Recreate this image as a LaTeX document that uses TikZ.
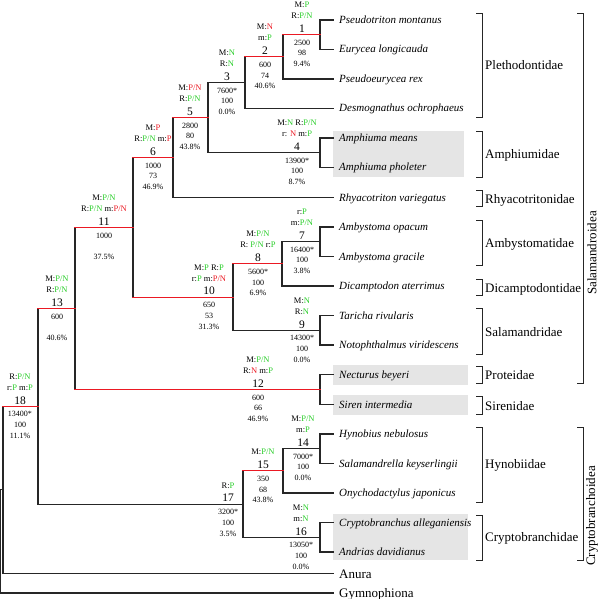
\documentclass[tikz,border=0pt]{standalone}
\usepackage{fontspec}
\setmainfont{Liberation Serif}
\definecolor{gr}{RGB}{40,205,40}
\definecolor{rd}{RGB}{235,25,35}
\definecolor{boxgray}{RGB}{229,229,229}
\newcommand{\gtx}[1]{\textcolor{gr}{#1}}
\newcommand{\rtx}[1]{\textcolor{rd}{#1}}
\newcommand{\tlab}[9]{%
  \node[clab] (#1-a) at (#2,#3-27) {#4};
  \node[clab] (#1-b) at (#2,#3-16) {#5};
  \node[nlab] (#1-n) at (#2,#3-2.2) {#6};
  \node[slab] (#1-s) at (#2,#3+10.7) {#7};
  \node[slab] (#1-t) at (#2,#3+21.2) {#8};
  \node[slab] (#1-u) at (#2,#3+32.0) {#9};
}
\tikzset{
  clab/.style={anchor=base, inner sep=0pt, font=\fontsize{8.5}{10}\selectfont},
  nlab/.style={anchor=base, inner sep=0pt, font=\fontsize{11.5}{12}\selectfont},
  slab/.style={anchor=base, inner sep=0pt, font=\fontsize{8}{9}\selectfont},
  br/.style={line width=1.1pt, black!85, line cap=rect},
  rb/.style={line width=1.1pt, rd, line cap=rect},
  sp/.style={anchor=base west, inner sep=0pt, font=\fontsize{11}{12}\selectfont\itshape},
  fam/.style={anchor=base west, inner sep=0pt, font=\fontsize{13}{14}\selectfont},
  brk/.style={line width=0.9pt, black!85},
}
\begin{document}
\begin{tikzpicture}[x=1pt,y=-1pt]
\useasboundingbox (0,0) rectangle (600,599);
% shaded species boxes
\fill[boxgray] (333,131.5) rectangle (464,177.5);
\fill[boxgray] (333,364.5) rectangle (468,384.5);
\fill[boxgray] (333,395) rectangle (468,415);
\fill[boxgray] (333,514) rectangle (468,560);
% leaves
\coordinate (l0) at (333,20);
\coordinate (l1) at (333,49.5);
\coordinate (l2) at (333,79);
\coordinate (l3) at (333,108.5);
\coordinate (l4) at (333,138);
\coordinate (l5) at (333,167.5);
\coordinate (l6) at (333,197.5);
\coordinate (l7) at (333,227);
\coordinate (l8) at (333,256.5);
\coordinate (l9) at (333,286);
\coordinate (l10) at (333,315.5);
\coordinate (l11) at (333,345);
\coordinate (l12) at (333,374.5);
\coordinate (l13) at (333,404.5);
\coordinate (l14) at (333,434);
\coordinate (l15) at (333,463.5);
\coordinate (l16) at (333,493);
\coordinate (l17) at (333,522.5);
\coordinate (l18) at (333,552);
\coordinate (lan) at (333,573.5);
\coordinate (lgy) at (333,593);
% internal nodes
\coordinate (n1) at (320,34.75);
\coordinate (n2) at (283,56.9);
\coordinate (n3) at (245,82.7);
\coordinate (n4) at (320,152.75);
\coordinate (n5) at (208,117.7);
\coordinate (n6) at (173,157.6);
\coordinate (n7) at (320,241.75);
\coordinate (n8) at (282,263.9);
\coordinate (n9) at (320,330.25);
\coordinate (n10) at (233,297.1);
\coordinate (n11) at (133,227.35);
\coordinate (n12) at (320,389.5);
\coordinate (n13) at (75,308.4);
\coordinate (n14) at (320,448.75);
\coordinate (n15) at (283,470.9);
\coordinate (n16) at (320,537.25);
\coordinate (n17) at (243,504.1);
\coordinate (n18) at (38,406.25);
\coordinate (nA) at (3,489.9);
\coordinate (nR) at (0.6,541.7);
% vertical lines
\draw[br] (n1 |- l0) -- (n1 |- l1);
\draw[br] (n2 |- n1) -- (n2 |- l2);
\draw[br] (n3 |- n2) -- (n3 |- l3);
\draw[br] (n4 |- l4) -- (n4 |- l5);
\draw[br] (n5 |- n3) -- (n5 |- n4);
\draw[br] (n6 |- n5) -- (n6 |- l6);
\draw[br] (n7 |- l7) -- (n7 |- l8);
\draw[br] (n8 |- n7) -- (n8 |- l9);
\draw[br] (n9 |- l10) -- (n9 |- l11);
\draw[br] (n10 |- n8) -- (n10 |- n9);
\draw[br] (n11 |- n6) -- (n11 |- n10);
\draw[br] (n12 |- l12) -- (n12 |- l13);
\draw[br] (n13 |- n11) -- (n13 |- n12);
\draw[br] (n14 |- l14) -- (n14 |- l15);
\draw[br] (n15 |- n14) -- (n15 |- l16);
\draw[br] (n16 |- l17) -- (n16 |- l18);
\draw[br] (n17 |- n15) -- (n17 |- n16);
\draw[br] (n18 |- n13) -- (n18 |- n17);
\draw[br] (nA |- n18) -- (nA |- lan);
\draw[br] (nR |- nA) -- (nR |- lgy);
% horizontal branches (black)
\draw[br] (n1 |- l0) -- (l0);
\draw[br] (n1 |- l1) -- (l1);
\draw[br] (n2 |- l2) -- (l2);
\draw[br] (n3 |- l3) -- (l3);
\draw[br] (n4 |- l4) -- (l4);
\draw[br] (n4 |- l5) -- (l5);
\draw[br] (n6 |- l6) -- (l6);
\draw[br] (n7 |- l7) -- (l7);
\draw[br] (n7 |- l8) -- (l8);
\draw[br] (n8 |- l9) -- (l9);
\draw[br] (n9 |- l10) -- (l10);
\draw[br] (n9 |- l11) -- (l11);
\draw[br] (n12 |- l12) -- (l12);
\draw[br] (n12 |- l13) -- (l13);
\draw[br] (n14 |- l14) -- (l14);
\draw[br] (n14 |- l15) -- (l15);
\draw[br] (n15 |- l16) -- (l16);
\draw[br] (n16 |- l17) -- (l17);
\draw[br] (n16 |- l18) -- (l18);
\draw[br] (nA |- lan) -- (lan);
\draw[br] (nR |- lgy) -- (lgy);
\draw[br] (nR |- nA) -- (nA);
\draw[br] (n5 |- n3) -- (n3);
\draw[br] (n5 |- n4) -- (n4);
\draw[br] (n8 |- n7) -- (n7);
\draw[br] (n10 |- n9) -- (n9);
\draw[br] (n15 |- n14) -- (n14);
\draw[br] (n17 |- n16) -- (n16);
\draw[br] (n18 |- n17) -- (n17);
% horizontal branches (red)
\draw[rb] (n2 |- n1) -- (n1);
\draw[rb] (n3 |- n2) -- (n2);
\draw[rb] (n6 |- n5) -- (n5);
\draw[rb] (n11 |- n6) -- (n6);
\draw[rb] (n10 |- n8) -- (n8);
\draw[rb] (n11 |- n10) -- (n10);
\draw[rb] (n13 |- n11) -- (n11);
\draw[rb] (n13 |- n12) -- (n12);
\draw[rb] (n18 |- n13) -- (n13);
\draw[rb] (n17 |- n15) -- (n15);
\draw[rb] (nA |- n18) -- (n18);
% node labels
\tlab{t1}{302}{34.75}{M:\gtx{P}}{R:\gtx{P/N}}{1}{2500}{98}{9.4\%}
\tlab{t2}{265}{56.9}{M:\rtx{N}}{m:\gtx{P}}{2}{600}{74}{40.6\%}
\tlab{t3}{227}{82.7}{M:\gtx{N}}{R:\gtx{N}}{3}{7600*}{100}{0.0\%}
\tlab{t4}{297}{152.75}{M:\gtx{N} R:\gtx{P/N}}{r: \rtx{N} m:\gtx{P}}{4}{13900*}{100}{8.7\%}
\tlab{t5}{190}{117.7}{M:\rtx{P/N}}{R:\gtx{P/N}}{5}{2800}{80}{43.8\%}
\tlab{t6}{153}{157.6}{M:\rtx{P}}{R:\gtx{P/N} m:\rtx{P}}{6}{1000}{73}{46.9\%}
\tlab{t7}{302}{241.75}{r:\gtx{P}}{m:\gtx{P/N}}{7}{16400*}{100}{3.8\%}
\tlab{t8}{258}{263.9}{M:\gtx{P/N}}{R: \gtx{P/N} r:\gtx{P}}{8}{5600*}{100}{6.9\%}
\tlab{t9}{302}{330.25}{M:\gtx{N}}{R:\gtx{N}}{9}{14300*}{100}{0.0\%}
\tlab{t10}{209}{297.1}{M:\gtx{P} R:\gtx{P}}{r:\gtx{P} m:\rtx{P/N}}{10}{650}{53}{31.3\%}
\tlab{t11}{104}{227.35}{M:\gtx{P/N}}{R:\gtx{P/N} m:\rtx{P/N}}{11}{1000}{}{37.5\%}
\tlab{t12}{258}{389.5}{M:\gtx{P/N}}{R:\rtx{N} m:\gtx{P}}{12}{600}{66}{46.9\%}
\tlab{t13}{57}{308.4}{M:\gtx{P/N}}{R:\gtx{P/N}}{13}{600}{}{40.6\%}
\tlab{t14}{303}{448.75}{M:\gtx{P/N}}{m:\gtx{P}}{14}{7000*}{100}{0.0\%}
\tlab{t15}{263}{470.9}{}{M:\gtx{P/N}}{15}{350}{68}{43.8\%}
\tlab{t16}{301}{537.25}{M:\gtx{N}}{m:\gtx{N}}{16}{13050*}{100}{0.0\%}
\tlab{t17}{228}{504.1}{}{R:\gtx{P}}{17}{3200*}{100}{3.5\%}
\tlab{t18}{20}{406.25}{R:\gtx{P/N}}{r:\gtx{P} m:\gtx{P}}{18}{13400*}{100}{11.1\%}
% species
\node[sp] (s0) at (339,23.5) {Pseudotriton montanus};
\node[sp] (s1) at (339,53) {Eurycea longicauda};
\node[sp] (s2) at (339,82.5) {Pseudoeurycea rex};
\node[sp] (s3) at (339,112) {Desmognathus ochrophaeus};
\node[sp] (s4) at (339,141.5) {Amphiuma means};
\node[sp] (s5) at (339,171) {Amphiuma pholeter};
\node[sp] (s6) at (339,201) {Rhyacotriton variegatus};
\node[sp] (s7) at (339,230.5) {Ambystoma opacum};
\node[sp] (s8) at (339,260) {Ambystoma gracile};
\node[sp] (s9) at (339,289.5) {Dicamptodon aterrimus};
\node[sp] (s10) at (339,319) {Taricha rivularis};
\node[sp] (s11) at (339,348.5) {Notophthalmus viridescens};
\node[sp] (s12) at (339,378) {Necturus beyeri};
\node[sp] (s13) at (339,408) {Siren intermedia};
\node[sp] (s14) at (339,437.5) {Hynobius nebulosus};
\node[sp] (s15) at (339,467) {Salamandrella keyserlingii};
\node[sp] (s16) at (339,496.5) {Onychodactylus japonicus};
\node[sp] (s17) at (339,526) {Cryptobranchus alleganiensis};
\node[sp] (s18) at (339,555.5) {Andrias davidianus};
\node[fam] (san) at (339,578) {Anura};
\node[fam] (sgy) at (339,597.5) {Gymnophiona};
% family brackets
\draw[brk] (476,13) -- (482,13) -- (482,117.5) -- (476,117.5);
\draw[brk] (476,131) -- (482,131) -- (482,177) -- (476,177);
\draw[brk] (476,190.5) -- (482,190.5) -- (482,206.5) -- (476,206.5);
\draw[brk] (476,220) -- (482,220) -- (482,265) -- (476,265);
\draw[brk] (476,279) -- (482,279) -- (482,295) -- (476,295);
\draw[brk] (476,308.5) -- (482,308.5) -- (482,354) -- (476,354);
\draw[brk] (476,366) -- (482,366) -- (482,383.5) -- (476,383.5);
\draw[brk] (476,396.5) -- (482,396.5) -- (482,414) -- (476,414);
\draw[brk] (476,427) -- (482,427) -- (482,502) -- (476,502);
\draw[brk] (476,515) -- (482,515) -- (482,560) -- (476,560);
\node[fam] (f1) at (485,70) {Plethodontidae};
\node[fam] (f2) at (485,159) {Amphiumidae};
\node[fam] (f3) at (485,203.5) {Rhyacotritonidae};
\node[fam] (f4) at (485,247) {Ambystomatidae};
\node[fam] (f5) at (485,292) {Dicamptodontidae};
\node[fam] (f6) at (485,336) {Salamandridae};
\node[fam] (f7) at (485,379) {Proteidae};
\node[fam] (f8) at (485,410) {Sirenidae};
\node[fam] (f9) at (485,468) {Hynobiidae};
\node[fam] (f10) at (485,541) {Cryptobranchidae};
% superfamily brackets
\draw[brk] (577,13) -- (583,13) -- (583,383.5) -- (577,383.5);
\draw[brk] (577,427) -- (583,427) -- (583,560) -- (577,560);
\node[rotate=90, inner sep=0pt, font=\fontsize{13}{14}\selectfont] (g1) at (592,253) {Salamandroidea};
\node[rotate=90, inner sep=0pt, font=\fontsize{13}{14}\selectfont] (g2) at (592,516) {Cryptobranchoidea};
\end{tikzpicture}
\end{document}
